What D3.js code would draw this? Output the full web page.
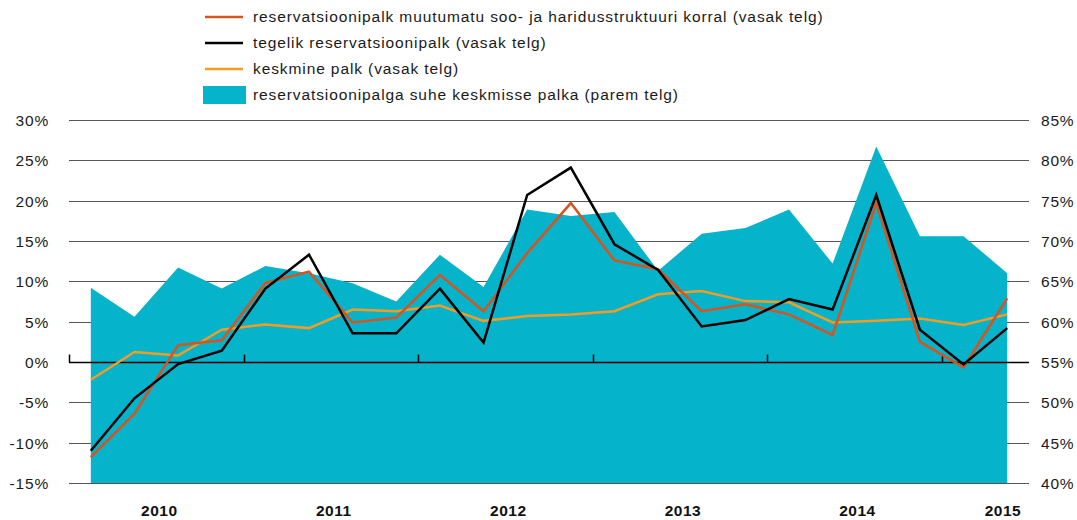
<!DOCTYPE html>
<html>
<head>
    <meta charset="UTF-8">
    <title>Reservatsioonipalk</title>
    <script src="https://cdn.jsdelivr.net/npm/d3@7/dist/d3.min.js"></script>
    <style>
        body { margin: 0; background: #fff; }
        svg { display: block; font-family: "Liberation Sans", Arial, sans-serif; }
        .tick-label { font-size: 15.5px; letter-spacing: 0.8px; fill: #1a1a1a; }
        .legend-label { font-size: 15.5px; letter-spacing: 0.9px; fill: #1a1a1a; }
        .year-label { font-size: 15.5px; font-weight: bold; letter-spacing: 0.5px; fill: #111; }
    </style>
</head>
<body>
<div id="chart"></div>
<script>
    // quarters 2010Q1 .. 2015Q2
    var quarters = [];
    [2010, 2011, 2012, 2013, 2014, 2015].forEach(function (y) {
        [1, 2, 3, 4].forEach(function (q) {
            if (y < 2015 || q <= 2) quarters.push(y + "Q" + q);
        });
    });
    var years = ["2010", "2011", "2012", "2013", "2014", "2015"];

    // reservatsioonipalk muutumatu soo- ja haridusstruktuuri korral (left axis, %)
    var fixedStructure = [-11.8, -6.4, 2.1, 2.7, 9.8, 11.2, 4.9, 5.5, 10.8, 6.3, 13.5, 19.7,
                          12.6, 11.5, 6.3, 7.15, 5.9, 3.35, 19.7, 2.5, -0.65, 7.9];
    // tegelik reservatsioonipalk (left axis, %)
    var actual = [-11.0, -4.5, -0.25, 1.4, 9.1, 13.3, 3.55, 3.55, 9.1, 2.4, 20.7, 24.1,
                  14.6, 11.4, 4.4, 5.2, 7.8, 6.5, 20.7, 4.0, -0.3, 4.2];
    // keskmine palk (left axis, %)
    var avgWage = [-2.2, 1.25, 0.8, 4.0, 4.65, 4.2, 6.5, 6.3, 7.0, 5.1, 5.7, 5.9,
                   6.3, 8.4, 8.8, 7.55, 7.4, 4.9, 5.1, 5.4, 4.6, 5.9];
    // reservatsioonipalga suhe keskmisse palka (right axis, %)
    var ratio = [64.2, 60.6, 66.7, 64.1, 66.9, 66.0, 64.75, 62.5, 68.3, 64.3, 73.9, 73.1,
                 73.6, 66.3, 70.9, 71.6, 73.9, 67.2, 81.7, 70.6, 70.6, 66.0];

    var leftTicks = [30, 25, 20, 15, 10, 5, 0, -5, -10, -15];
    var rightTicks = [85, 80, 75, 70, 65, 60, 55, 50, 45, 40];

    var legendItems = [
        {label: "reservatsioonipalk muutumatu soo- ja haridusstruktuuri korral (vasak telg)", color: "#d9531e", type: "line"},
        {label: "tegelik reservatsioonipalk (vasak telg)", color: "#000000", type: "line"},
        {label: "keskmine palk (vasak telg)", color: "#f39c24", type: "line"},
        {label: "reservatsioonipalga suhe keskmisse palka (parem telg)", color: "#05b3ca", type: "rect"}
    ];

    var W = 1077, H = 520;
    var plotLeft = 69, plotRight = 1029, plotTop = 120, plotBottom = 483;

    var svg = d3.select("#chart").append("svg").attr("width", W).attr("height", H);

    var x = d3.scaleBand().domain(quarters).range([plotLeft, plotRight]);
    var xc = function (q) { return x(q) + x.bandwidth() / 2; };
    var yL = d3.scaleLinear().domain([-15, 30]).range([plotBottom, plotTop]);
    var yR = d3.scaleLinear().domain([40, 85]).range([plotBottom, plotTop]);

    // gridlines
    svg.append("g").selectAll("line").data(leftTicks.filter(function (d) { return d !== 0; }))
        .enter().append("line")
        .attr("x1", plotLeft).attr("x2", plotRight)
        .attr("y1", function (d) { return Math.round(yL(d)) + 0.5; })
        .attr("y2", function (d) { return Math.round(yL(d)) + 0.5; })
        .attr("stroke", "#555").attr("stroke-width", 1.2);

    // area (right axis)
    var area = d3.area()
        .x(function (d, i) { return xc(quarters[i]); })
        .y0(yR(40))
        .y1(function (d) { return yR(d); });
    svg.append("path").datum(ratio).attr("d", area).attr("fill", "#05b3ca");

    // zero line with year ticks
    var y0 = Math.round(yL(0)) + 0.5;
    svg.append("line").attr("x1", plotLeft).attr("x2", plotRight).attr("y1", y0).attr("y2", y0)
        .attr("stroke", "#000").attr("stroke-width", 1.5);
    svg.append("g").selectAll("line").data(years)
        .enter().append("line")
        .attr("x1", function (d) { return Math.round(x(d + "Q1")) + 0.5; })
        .attr("x2", function (d) { return Math.round(x(d + "Q1")) + 0.5; })
        .attr("y1", y0).attr("y2", y0 - 8)
        .attr("stroke", "#000").attr("stroke-width", 1.5);

    // lines
    var line = d3.line()
        .x(function (d, i) { return xc(quarters[i]); })
        .y(function (d) { return yL(d); });
    [[avgWage, "#f39c24"], [fixedStructure, "#d9531e"], [actual, "#000000"]].forEach(function (s) {
        svg.append("path").datum(s[0]).attr("d", line)
            .attr("fill", "none").attr("stroke", s[1]).attr("stroke-width", 2.5)
            .attr("stroke-linejoin", "miter");
    });

    // left axis labels
    svg.append("g").selectAll("text").data(leftTicks)
        .enter().append("text").attr("class", "tick-label")
        .attr("x", 49).attr("y", function (d) { return yL(d) + 6; })
        .attr("text-anchor", "end")
        .text(function (d) { return d + "%"; });

    // right axis labels
    svg.append("g").selectAll("text").data(rightTicks)
        .enter().append("text").attr("class", "tick-label")
        .attr("x", 1041).attr("y", function (d) { return yR(d) + 6; })
        .text(function (d) { return d + "%"; });

    // year labels
    svg.append("g").selectAll("text").data(years)
        .enter().append("text").attr("class", "year-label")
        .attr("x", function (d) {
            var c = x(d + "Q1") + 2 * x.bandwidth() + 3;
            return Math.min(c, plotRight - 26);
        })
        .attr("y", 516)
        .attr("text-anchor", "middle")
        .text(function (d) { return d; });

    // legend
    var lg = svg.append("g");
    legendItems.forEach(function (d, i) {
        var cy = 17 + i * 26;
        if (d.type === "line") {
            lg.append("line").attr("x1", 205).attr("x2", 243).attr("y1", cy).attr("y2", cy)
                .attr("stroke", d.color).attr("stroke-width", 2.5);
        } else {
            lg.append("rect").attr("x", 203).attr("y", cy - 9).attr("width", 43).attr("height", 18)
                .attr("fill", d.color);
        }
        lg.append("text").attr("class", "legend-label")
            .attr("x", 253).attr("y", cy + 5)
            .text(d.label);
    });
</script>
</body>
</html>
